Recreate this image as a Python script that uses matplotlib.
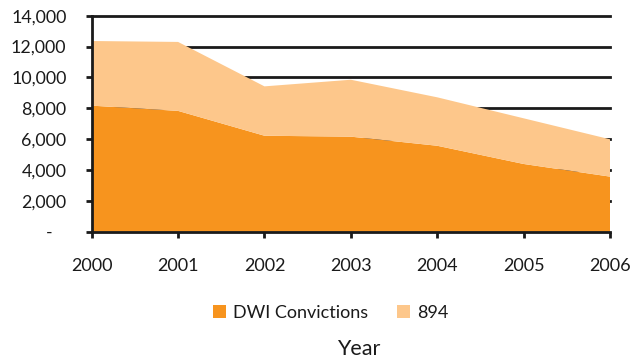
import matplotlib
matplotlib.use("Agg")
import matplotlib.pyplot as plt
from matplotlib.ticker import FuncFormatter
from matplotlib.patches import Patch

years = [2000, 2001, 2002, 2003, 2004, 2005, 2006]
dwi_convictions = [8170, 7830, 6220, 6160, 5570, 4390, 3570]
series_894 = [4190, 4470, 3200, 3690, 3140, 2960, 2420]
series_names = ["DWI Convictions", "894"]
colors = ["#F7941E", "#FDC78B"]
yticks = [0, 2000, 4000, 6000, 8000, 10000, 12000, 14000]

plt.rcParams['font.family'] = ['Lato', 'DejaVu Sans']
text_color = "#1a1a1a"

W, H = 632, 360
fig = plt.figure(figsize=(W/100, H/100), dpi=100)
left, right, top, bottom = 91.7, 610, 15.7, 231.7
ax = fig.add_axes([left/W, 1-bottom/H, (right-left)/W, (bottom-top)/H])

ax.stackplot(years, dwi_convictions, series_894, colors=colors, linewidth=0, zorder=2)

ax.set_xlim(2000, 2006)
ax.set_ylim(0, 14000)
ax.set_yticks(yticks)
ax.set_xticks(years)
ax.yaxis.set_major_formatter(FuncFormatter(lambda v, p: "-   " if v == 0 else f"{int(v):,}"))

for y in yticks[1:]:
    ax.axhline(y, color="#1a1a1a", linewidth=2.0, zorder=1, clip_on=False)

for s in ["top", "right"]:
    ax.spines[s].set_visible(False)
for s in ["left", "bottom"]:
    ax.spines[s].set_color("#1a1a1a")
    ax.spines[s].set_linewidth(2.0)
    ax.spines[s].set_zorder(3)

ax.tick_params(axis="both", length=4.2, width=2, color="#1a1a1a", labelcolor=text_color)
ax.tick_params(axis="y", pad=14, labelsize=12.8)
ax.tick_params(axis="x", pad=15, labelsize=13)

handles = [Patch(facecolor=c, edgecolor="none") for c in colors]
fig.legend(handles, series_names, loc="center", bbox_to_anchor=(331/W, 1-313/H), ncol=2,
           frameon=False, fontsize=13, handlelength=0.7, handleheight=0.7, handletextpad=0.4,
           columnspacing=1.6, labelcolor=text_color, borderpad=0)
fig.text(358.5/W, 1-349/H, "Year", ha="center", va="center", fontsize=15.5, color=text_color)

fig.savefig("out.png", dpi=100)
